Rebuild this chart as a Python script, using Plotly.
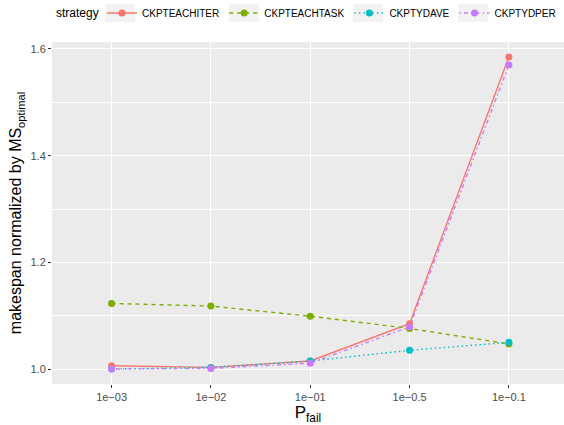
import plotly.graph_objects as go

categories = ["1e−03", "1e−02", "1e−01", "1e−0.5", "1e−0.1"]
strategies = ["CKPTEACHITER", "CKPTEACHTASK", "CKPTYDAVE", "CKPTYDPER"]
ckpteachiter = [1.006, 1.003, 1.015, 1.085, 1.585]
ckpteachtask = [1.123, 1.118, 1.099, 1.076, 1.047]
ckptydave = [1.000, 1.003, 1.015, 1.035, 1.050]
ckptydper = [1.000, 1.001, 1.011, 1.079, 1.570]

series = [ckpteachiter, ckpteachtask, ckptydave, ckptydper]
colors = ["#F8766D", "#7CAE00", "#00BFC4", "#C77CFF"]
dashes = ["solid", "4px,4px", "1.5px,3px", "1.5px,3px,4px,3px"]

fig = go.Figure()
for name, vals, col, dash in zip(strategies, series, colors, dashes):
    fig.add_trace(go.Scatter(
        x=list(range(len(categories))), y=vals, name=name, mode="lines+markers",
        line=dict(color=col, width=1.4, dash=dash),
        marker=dict(color=col, size=7),
    ))

W, H = 564, 425
L, R, T, B = 52, 0, 42, 41
pw, ph = W - L - R, H - T - B
def px(x):
    return (x - L) / pw
def py(y):
    return (H - B - y) / ph

LEG_X = 102
key_centers = [120, 244, 368, 473]
shapes = [dict(type="rect", xref="paper", yref="paper",
               x0=px(c - 15), x1=px(c + 15), y0=py(22), y1=py(4),
               fillcolor="#F2F2F2", line=dict(width=0), layer="below")
          for c in key_centers]

fig.update_layout(
    width=W, height=H,
    margin=dict(l=L, r=R, t=T, b=B, autoexpand=False),
    paper_bgcolor="white", plot_bgcolor="#EBEBEB",
    font=dict(family="Liberation Sans, Arial, sans-serif", color="black"),
    showlegend=True,
    legend=dict(
        orientation="h", x=px(LEG_X), xanchor="left", y=py(13), yanchor="middle",
        font=dict(size=10), bgcolor="rgba(0,0,0,0)",
        itemwidth=30, tracegroupgap=0,
    ),
    shapes=shapes,
    annotations=[dict(
        text="strategy", x=px(54), y=py(13), xref="paper", yref="paper",
        xanchor="left", yanchor="middle", showarrow=False, font=dict(size=12),
    )],
    xaxis=dict(
        automargin=False,
        tickmode="array", tickvals=list(range(len(categories))), ticktext=categories,
        range=[-0.6, 4.555], showgrid=True, gridcolor="white", gridwidth=1.4,
        zeroline=False, ticks="outside", ticklen=3, tickcolor="#333333",
        tickfont=dict(size=11, color="#4D4D4D"),
        title=dict(text="P<sub>fail</sub>", font=dict(size=17), standoff=2),
    ),
    yaxis=dict(
        automargin=False,
        range=[0.9719, 1.6131], tickvals=[1.0, 1.2, 1.4, 1.6],
        ticktext=["1.0", "1.2", "1.4", "1.6"],
        showgrid=True, gridcolor="white", gridwidth=1.4, zeroline=False,
        ticks="outside", ticklen=3, tickcolor="#333333",
        tickfont=dict(size=11, color="#4D4D4D"),
        minor=dict(tickvals=[1.1, 1.3, 1.5], showgrid=True, gridcolor="white", gridwidth=0.7, ticks=""),
        title=dict(text="makespan normalized by MS<sub>optimal</sub>", font=dict(size=16), standoff=4),
    ),
)

fig.write_html("out.html", config={"displayModeBar": False})
with open("out.html", encoding="utf-8") as f:
    html = f.read()
html = html.replace("<head>", "<head><style>html,body{margin:0;padding:0;overflow:hidden}</style>", 1)
with open("out.html", "w", encoding="utf-8") as f:
    f.write(html)
